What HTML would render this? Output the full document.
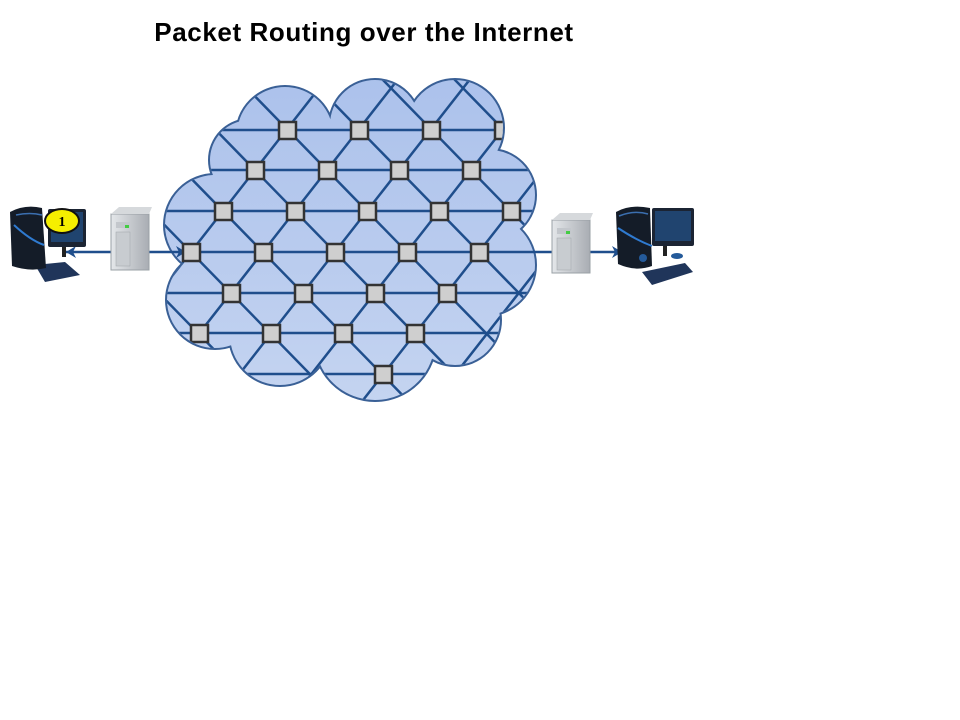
<!DOCTYPE html>
<html><head><meta charset="utf-8"><style>
html,body{margin:0;padding:0;background:#fff;width:960px;height:720px;overflow:hidden}
</style></head><body>
<svg width="960" height="720" viewBox="0 0 960 720" xmlns="http://www.w3.org/2000/svg">
<defs>
<linearGradient id="cg" x1="0" y1="0" x2="0" y2="1">
<stop offset="0" stop-color="#a6bdea"/><stop offset="1" stop-color="#dce6f6"/>
</linearGradient>
<linearGradient id="sv" x1="0" y1="0" x2="1" y2="0">
<stop offset="0" stop-color="#e4e7ea"/><stop offset="1" stop-color="#a9adb3"/>
</linearGradient>
<clipPath id="cc">
<circle cx="285" cy="135" r="48"/><circle cx="375" cy="125" r="45"/><circle cx="455" cy="128" r="48"/>
<circle cx="490" cy="195" r="45"/><circle cx="485" cy="265" r="50"/><circle cx="455" cy="320" r="45"/>
<circle cx="375" cy="340" r="60"/><circle cx="280" cy="335" r="50"/><circle cx="215" cy="300" r="48"/>
<circle cx="215" cy="225" r="50"/><circle cx="250" cy="160" r="40"/><circle cx="350" cy="240" r="120"/>
</clipPath>
</defs>
<text x="364" y="41" text-anchor="middle" font-family="Liberation Sans, sans-serif" font-weight="bold" font-size="26" letter-spacing="0.6" fill="#000">Packet Routing over the Internet</text>

<g fill="none" stroke="#3a6096" stroke-width="4">
<circle cx="285" cy="135" r="48"/><circle cx="375" cy="125" r="45"/><circle cx="455" cy="128" r="48"/>
<circle cx="490" cy="195" r="45"/><circle cx="485" cy="265" r="50"/><circle cx="455" cy="320" r="45"/>
<circle cx="375" cy="340" r="60"/><circle cx="280" cy="335" r="50"/><circle cx="215" cy="300" r="48"/>
<circle cx="215" cy="225" r="50"/><circle cx="250" cy="160" r="40"/>
</g>
<rect x="0" y="0" width="960" height="720" fill="url(#cg)" clip-path="url(#cc)"/>

<g clip-path="url(#cc)" stroke="#1f4e8c" stroke-width="2.5">
<line x1="0" y1="130" x2="700" y2="130"/><line x1="0" y1="170" x2="700" y2="170"/>
<line x1="0" y1="211" x2="700" y2="211"/><line x1="0" y1="293" x2="700" y2="293"/>
<line x1="0" y1="333" x2="700" y2="333"/><line x1="0" y1="374" x2="700" y2="374"/>
<line x1="100" y1="0" x2="-252" y2="450"/><line x1="172" y1="0" x2="-180" y2="450"/>
<line x1="244" y1="0" x2="-108" y2="450"/><line x1="316" y1="0" x2="-36" y2="450"/>
<line x1="388" y1="0" x2="36" y2="450"/><line x1="460" y1="0" x2="108" y2="450"/>
<line x1="532" y1="0" x2="180" y2="450"/><line x1="604" y1="0" x2="252" y2="450"/>
<line x1="676" y1="0" x2="324" y2="450"/><line x1="748" y1="0" x2="396" y2="450"/>
<line x1="820" y1="0" x2="468" y2="450"/><line x1="892" y1="0" x2="540" y2="450"/>
<line x1="-343" y1="0" x2="96" y2="450"/><line x1="-271" y1="0" x2="168" y2="450"/>
<line x1="-199" y1="0" x2="240" y2="450"/><line x1="-127" y1="0" x2="312" y2="450"/>
<line x1="-55" y1="0" x2="384" y2="450"/><line x1="17" y1="0" x2="456" y2="450"/>
<line x1="89" y1="0" x2="528" y2="450"/><line x1="161" y1="0" x2="600" y2="450"/>
<line x1="233" y1="0" x2="672" y2="450"/><line x1="305" y1="0" x2="744" y2="450"/>
<line x1="377" y1="0" x2="816" y2="450"/><line x1="449" y1="0" x2="888" y2="450"/>
</g>

<g stroke="#1f4e8c" stroke-width="2.5" fill="#1f4e8c">
<line x1="62" y1="252" x2="620" y2="252"/>
<polygon points="186,252 176,246 179,252 176,258" stroke="none"/>
<polygon points="622,252 612,246 615,252 612,258" stroke="none"/>
<polygon points="66,252 76,246 73,252 76,258" stroke="none"/>
</g>

<g fill="#cfcfcf" stroke="#333" stroke-width="2.5" clip-path="url(#cc)">
<rect x="279" y="122" width="17" height="17"/><rect x="351" y="122" width="17" height="17"/><rect x="423" y="122" width="17" height="17"/><rect x="495" y="122" width="17" height="17"/>
<rect x="247" y="162" width="17" height="17"/><rect x="319" y="162" width="17" height="17"/><rect x="391" y="162" width="17" height="17"/><rect x="463" y="162" width="17" height="17"/>
<rect x="215" y="203" width="17" height="17"/><rect x="287" y="203" width="17" height="17"/><rect x="359" y="203" width="17" height="17"/><rect x="431" y="203" width="17" height="17"/><rect x="503" y="203" width="17" height="17"/>
<rect x="183" y="244" width="17" height="17"/><rect x="255" y="244" width="17" height="17"/><rect x="327" y="244" width="17" height="17"/><rect x="399" y="244" width="17" height="17"/><rect x="471" y="244" width="17" height="17"/>
<rect x="223" y="285" width="17" height="17"/><rect x="295" y="285" width="17" height="17"/><rect x="367" y="285" width="17" height="17"/><rect x="439" y="285" width="17" height="17"/>
<rect x="191" y="325" width="17" height="17"/><rect x="263" y="325" width="17" height="17"/><rect x="335" y="325" width="17" height="17"/><rect x="407" y="325" width="17" height="17"/>
<rect x="375" y="366" width="17" height="17"/>
</g>

<g>
<rect x="111" y="214" width="38" height="56" fill="url(#sv)" stroke="#9aa0a6"/>
<polygon points="111,214 119,207 152,207 149,214" fill="#d6d9dc"/>
<rect x="116" y="222" width="14" height="6" fill="#c3c7cc"/>
<rect x="116" y="232" width="14" height="34" fill="#c8ccd0" stroke="#a0a5aa" stroke-width="0.5"/>
<rect x="125" y="225" width="4" height="3" fill="#4c4"/>
<rect x="552" y="220" width="38" height="53" fill="url(#sv)" stroke="#9aa0a6"/>
<polygon points="552,220 560,213 593,213 590,220" fill="#d6d9dc"/>
<rect x="557" y="228" width="14" height="6" fill="#c3c7cc"/>
<rect x="557" y="238" width="14" height="32" fill="#c8ccd0" stroke="#a0a5aa" stroke-width="0.5"/>
<rect x="566" y="231" width="4" height="3" fill="#4c4"/>
</g>

<g>
<rect x="48" y="209" width="38" height="38" fill="#1b2433" rx="2"/>
<rect x="51" y="212" width="32" height="30" fill="#20446f"/>
<rect x="62" y="247" width="4" height="10" fill="#222"/>
<polygon points="35,265 65,262 80,275 45,282" fill="#20355a"/>
<path d="M10,212 Q25,204 42,208 L46,268 Q30,272 12,266 Z" fill="#141c28"/>
<path d="M14,225 Q30,240 44,245" stroke="#2f7ad0" stroke-width="2" fill="none"/>
<path d="M16,215 Q30,212 42,215" stroke="#3b6fb0" stroke-width="1.5" fill="none"/>
<ellipse cx="62" cy="221" rx="17" ry="12" fill="#f5ef00" stroke="#111" stroke-width="2"/>
<text x="62" y="226" text-anchor="middle" font-family="Liberation Serif, serif" font-weight="bold" font-size="14">1</text>
</g>
<g>
<rect x="652" y="208" width="42" height="38" fill="#1b2433" rx="2"/>
<rect x="655" y="211" width="36" height="30" fill="#20446f"/>
<rect x="663" y="246" width="4" height="10" fill="#222"/>
<ellipse cx="677" cy="256" rx="6" ry="3" fill="#245a9a"/>
<polygon points="642,272 685,263 693,272 652,285" fill="#20355a"/>
<path d="M616,212 Q630,204 650,208 L652,266 Q636,272 618,264 Z" fill="#141c28"/>
<path d="M618,228 Q636,240 652,246" stroke="#2f7ad0" stroke-width="2" fill="none"/>
<path d="M619,216 Q634,210 648,214" stroke="#3b6fb0" stroke-width="1.5" fill="none"/>
<circle cx="643" cy="258" r="4" fill="#245a9a"/>
</g>
</svg>
</body></html>
